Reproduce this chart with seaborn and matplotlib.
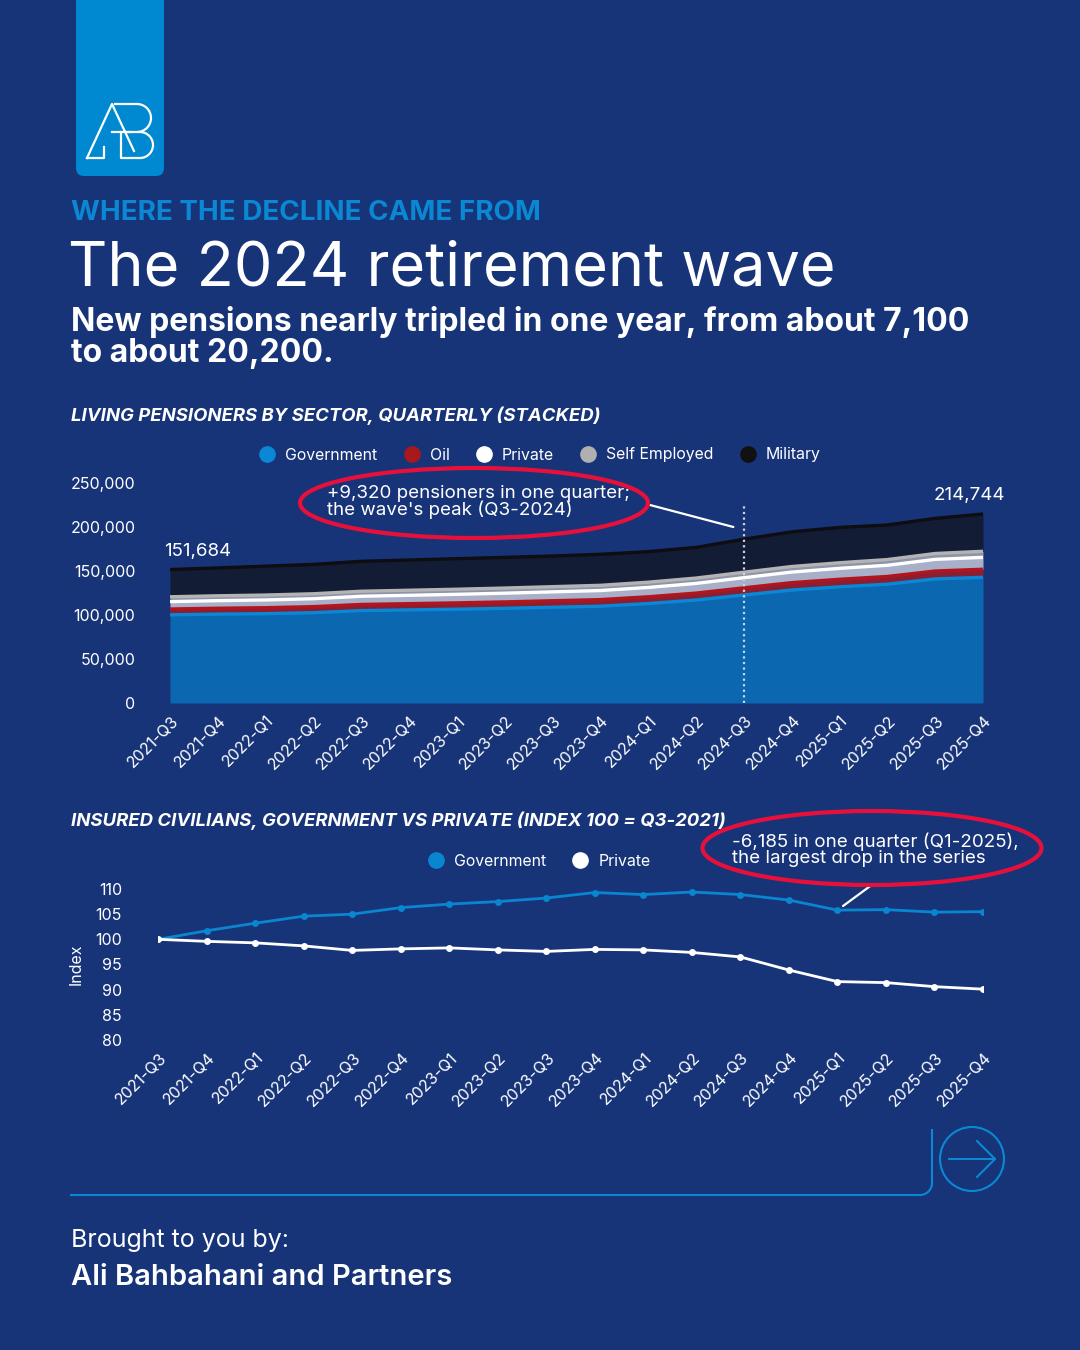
import matplotlib
matplotlib.use("Agg")
import matplotlib.pyplot as plt
import matplotlib.patches as mpatches
import matplotlib.transforms as mtransforms
from matplotlib.lines import Line2D
import seaborn as sns
import numpy as np
import pandas as pd

# ---- data ----
quarters = ["2021-Q3", "2021-Q4", "2022-Q1", "2022-Q2", "2022-Q3", "2022-Q4",
            "2023-Q1", "2023-Q2", "2023-Q3", "2023-Q4", "2024-Q1", "2024-Q2",
            "2024-Q3", "2024-Q4", "2025-Q1", "2025-Q2", "2025-Q3", "2025-Q4"]

# living pensioners by sector (stacked)
government = [100200, 101000, 101500, 102600, 105000, 105800, 106600, 107600, 108800,
              110000, 113000, 117000, 122700, 128400, 132000, 135000, 141000, 142800]
oil = [6600, 6700, 6800, 6900, 7000, 7100, 7200, 7300, 7400,
       7500, 7700, 7900, 8200, 8400, 8600, 8800, 9000, 9200]
private = [8400, 8600, 8800, 9000, 9300, 9500, 9700, 9900, 10100,
           10300, 10600, 11000, 11500, 12000, 12400, 12700, 13200, 13500]
self_employed = [5500, 5550, 5600, 5650, 5700, 5750, 5800, 5850, 5900,
                 5950, 6000, 6100, 6200, 6300, 6400, 6500, 6700, 6900]
military = [30984, 31650, 32800, 33350, 34000, 34350, 34700, 34850, 34800,
            35250, 34700, 34800, 37520, 39400, 40100, 39300, 39900, 42344]

# insured civilians index (100 = Q3-2021)
gov_index = [100.0, 101.7, 103.2, 104.6, 105.0, 106.3, 107.0, 107.5, 108.2,
             109.3, 108.9, 109.4, 108.9, 107.8, 105.8, 105.9, 105.4, 105.5]
priv_index = [100.0, 99.6, 99.3, 98.7, 97.8, 98.1, 98.3, 97.9, 97.6,
              98.0, 97.9, 97.4, 96.5, 93.9, 91.6, 91.4, 90.6, 90.1]

sectors = ["Government", "Oil", "Private", "Self Employed", "Military"]
layer_values = [government, oil, private, self_employed, military]
fill_colors = ["#0a67b0", "#8a1e33", "#a8afc9", "#8d93a8", "#131c35"]
line_colors = ["#0a88d6", "#b3151d", "#ffffff", "#b4b4b4", "#0d0d12"]
legend_colors = ["#0a88d6", "#a9181c", "#ffffff", "#b0b0b0", "#111111"]

peak_quarter = "2024-Q3"
drop_quarter = "2025-Q1"

BG = "#173479"
ACCENT = "#0a88d3"
RED = "#e8103a"

plt.rcParams["font.family"] = ["Inter", "DejaVu Sans"]

fig = plt.figure(figsize=(10.8, 13.5), dpi=100, facecolor=BG)

x = np.arange(len(quarters))
tops = np.cumsum(np.array(layer_values), axis=0)
totals = tops[-1]


def style_xlabels(ax):
    shift = mtransforms.ScaledTranslation(6 / 100, 0, fig.dpi_scale_trans)
    for lab in ax.get_xticklabels():
        lab.set_transform(lab.get_transform() + shift)


# ---- top chart: stacked area ----
ax1 = fig.add_axes([170 / 1080, 1 - 703 / 1350, 813 / 1080, 220 / 1350])
ax1.set_facecolor(BG)
bottom = np.zeros(len(quarters))
for i, name in enumerate(sectors):
    ax1.fill_between(x, bottom, tops[i], color=fill_colors[i], lw=0, zorder=2)
    sns.lineplot(x=x, y=tops[i], ax=ax1, color=line_colors[i], lw=2.4, zorder=3)
    bottom = tops[i]

pi = quarters.index(peak_quarter)
ax1.axvline(pi, ymin=0, ymax=0.9, color="#cfd3dd", ls=(0, (1, 1.5)), lw=1.6, zorder=4)

ax1.set_xlim(0, len(quarters) - 1)
ax1.set_ylim(0, 250000)
ax1.set_yticks([0, 50000, 100000, 150000, 200000, 250000])
ax1.set_yticklabels([f"{v:,}" for v in [0, 50000, 100000, 150000, 200000, 250000]])
ax1.set_xticks(x)
ax1.set_xticklabels(quarters, rotation=45, ha="right", va="center", rotation_mode="anchor")
ax1.tick_params(axis="both", length=0, colors="white", labelsize=11.5)
ax1.tick_params(axis="y", pad=25)
ax1.tick_params(axis="x", pad=11)
style_xlabels(ax1)
for s in ax1.spines.values():
    s.set_visible(False)
ax1.set_xlabel("")
ax1.set_ylabel("")

ax1.annotate(f"{totals[0]:,}", xy=(0, totals[0]), xytext=(-6, 10), textcoords="offset pixels",
             ha="left", va="bottom", color="white", fontsize=13.5)
ax1.annotate(f"{totals[-1]:,}", xy=(len(quarters) - 1, totals[-1]), xytext=(-14, 10),
             textcoords="offset pixels", ha="center", va="bottom", color="white", fontsize=13.5,
             annotation_clip=False)

handles = [Line2D([0], [0], marker="o", ls="", markersize=11, markerfacecolor=c,
                  markeredgecolor=c) for c in legend_colors]
fig.legend(handles, sectors, loc="center", bbox_to_anchor=(536 / 1080, 1 - 455 / 1350),
           ncol=5, frameon=False, labelcolor="white", fontsize=11.4, handletextpad=0.15,
           columnspacing=1.15)

# ---- bottom chart: index lines ----
ax2 = fig.add_axes([158 / 1080, 1 - 1040 / 1350, 825 / 1080, 151 / 1350])
ax2.set_facecolor(BG)
sns.lineplot(x=x, y=gov_index, ax=ax2, color="#0a86d0", lw=2, marker="o", markersize=5,
             markeredgewidth=0, zorder=3)
sns.lineplot(x=x, y=priv_index, ax=ax2, color="white", lw=2, marker="o", markersize=5,
             markeredgewidth=0, zorder=3)
ax2.set_xlim(0, len(quarters) - 1)
ax2.set_ylim(80, 110)
ax2.set_yticks([80, 85, 90, 95, 100, 105, 110])
ax2.set_xticks(x)
ax2.set_xticklabels(quarters, rotation=45, ha="right", va="center", rotation_mode="anchor")
ax2.tick_params(axis="both", length=0, colors="white", labelsize=11.5)
ax2.tick_params(axis="y", pad=26)
ax2.tick_params(axis="x", pad=11)
style_xlabels(ax2)
for s in ax2.spines.values():
    s.set_visible(False)
ax2.set_xlabel("")
ax2.set_ylabel("Index", color="white", fontsize=11.5, labelpad=8)

handles2 = [Line2D([0], [0], marker="o", ls="", markersize=11, markerfacecolor=c,
                   markeredgecolor=c) for c in ["#0a86d0", "white"]]
fig.legend(handles2, ["Government", "Private"], loc="center",
           bbox_to_anchor=(535 / 1080, 1 - 861 / 1350), ncol=2, frameon=False,
           labelcolor="white", fontsize=11.4, handletextpad=0.15, columnspacing=1.15)

# ---- overlay in pixel space: header, callouts, footer ----
ov = fig.add_axes([0, 0, 1, 1], zorder=10)
ov.set_xlim(0, 1080)
ov.set_ylim(1350, 0)
ov.axis("off")
ov.patch.set_alpha(0)

# logo block
ov.add_patch(mpatches.FancyBboxPatch((76, -20), 88, 196, boxstyle="round,pad=0,rounding_size=8",
                                     fc="#0088d1", ec="none"))
lw_logo = 1.6
ov.plot([87, 112, 134], [158, 104, 151], color="white", lw=lw_logo)
ov.plot([87, 104, 104], [158, 158, 147], color="white", lw=lw_logo)
ov.plot([112, 131], [132, 132], color="white", lw=lw_logo)
ov.plot([121, 121, 140], [132, 158, 158], color="white", lw=lw_logo)
ov.plot([115, 137], [104, 104], color="white", lw=lw_logo)
ov.add_patch(mpatches.Arc((137, 118), 28, 28, theta1=-90, theta2=90, color="white", lw=lw_logo))
ov.add_patch(mpatches.Arc((140, 145), 26, 26, theta1=-90, theta2=90, color="white", lw=lw_logo))
ov.plot([127, 140], [132, 132], color="white", lw=lw_logo)

# header text
ov.text(71, 220, "WHERE THE DECLINE CAME FROM", color=ACCENT, fontsize=20, fontweight="bold",
        va="baseline")
ov.text(68, 286, "The 2024 retirement wave", color="white", fontsize=44, fontweight="normal",
        va="baseline")
ov.text(71, 331, "New pensions nearly tripled in one year, from about 7,100", color="white",
        fontsize=23, fontweight="bold", va="baseline")
ov.text(71, 362, "to about 20,200.", color="white", fontsize=23, fontweight="bold",
        va="baseline")
ov.text(71, 421, "LIVING PENSIONERS BY SECTOR, QUARTERLY (STACKED)", color="white",
        fontsize=13.35, fontweight="bold", fontstyle="italic", va="baseline",
        family=["Inter", "Roboto", "DejaVu Sans"])
ov.text(71, 826, "INSURED CIVILIANS, GOVERNMENT VS PRIVATE (INDEX 100 = Q3-2021)", color="white",
        fontsize=13.35, fontweight="bold", fontstyle="italic", va="baseline",
        family=["Inter", "Roboto", "DejaVu Sans"])

# callout 1
ov.text(327, 502, "+9,320 pensioners in one quarter;\nthe wave's peak (Q3-2024)", color="white",
        fontsize=13.5, va="center", ha="left", linespacing=0.95)
ov.add_patch(mpatches.Ellipse((474, 503), 348, 70, fc="none", ec=RED, lw=3))
ax1.annotate("", xy=(pi - 0.22, 200000), xycoords="data", xytext=(650, 505),
             textcoords=ov.transData,
             arrowprops=dict(arrowstyle="-", color="white", lw=1.6, shrinkA=0, shrinkB=0),
             annotation_clip=False)

# callout 2
di = quarters.index(drop_quarter)
ov.text(732, 850, "-6,185 in one quarter (Q1-2025),\nthe largest drop in the series", color="white",
        fontsize=13.5, va="center", ha="left", linespacing=0.95)
ov.add_patch(mpatches.Ellipse((872, 848), 339, 74, fc="none", ec=RED, lw=3))
ax2.annotate("", xy=(di, gov_index[di]), xycoords="data", xytext=(873, 884),
             textcoords=ov.transData,
             arrowprops=dict(arrowstyle="-", color="white", lw=1.6, shrinkA=0, shrinkB=5),
             annotation_clip=False)

# footer line with rounded corner and arrow button
ov.plot([71, 920], [1195, 1195], color=ACCENT, lw=1.5)
ov.add_patch(mpatches.Arc((920, 1183), 24, 24, theta1=0, theta2=90, color=ACCENT, lw=1.5))
ov.plot([932, 932], [1130, 1183], color=ACCENT, lw=1.5)
ov.add_patch(mpatches.Circle((972, 1159), 32, fc="none", ec=ACCENT, lw=1.5))
ov.plot([949, 995], [1159, 1159], color=ACCENT, lw=1.5)
ov.plot([977, 995, 977], [1141, 1159, 1177], color=ACCENT, lw=1.5)

ov.text(71, 1247, "Brought to you by:", color="white", fontsize=18, va="baseline")
ov.text(71, 1285, "Ali Bahbahani and Partners", color="white", fontsize=21, fontweight="semibold",
        va="baseline")

fig.savefig("out.png", dpi=100, facecolor=BG)
